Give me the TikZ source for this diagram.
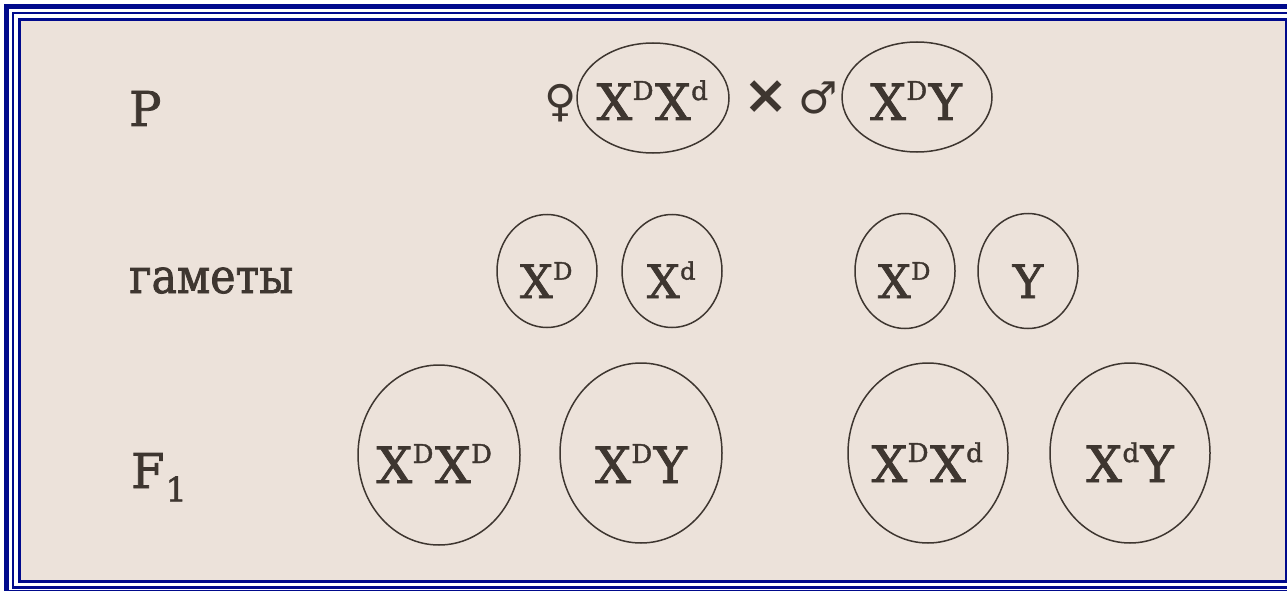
\documentclass[tikz,border=0pt]{standalone}
\usepackage{fontspec}
\usepackage{graphicx}
\usetikzlibrary{shapes.geometric}
\setmainfont{DejaVu Serif}[FakeBold=1.6]
\newfontfamily\symfont{DejaVu Sans}
\definecolor{paper}{HTML}{ECE2DA}
\definecolor{navy}{HTML}{000A8C}
\definecolor{ink}{HTML}{3E3630}
\newcommand{\up}[1]{\kern0.5pt\raisebox{0.4em}{\scalebox{0.52}{#1}}\kern1.5pt}
\newcommand{\dn}[1]{\kern1pt\raisebox{-0.28em}{\scalebox{0.7}{#1}}}
\tikzset{
  cell/.style={ellipse, draw=ink, line width=1.5pt, inner sep=0pt},
  big/.style={font=\fontsize{50}{50}\selectfont, text=ink, inner sep=0pt, anchor=base},
  mid/.style={font=\fontsize{46}{46}\selectfont, text=ink, inner sep=0pt, anchor=base},
  lbl/.style={font=\fontsize{48}{48}\selectfont, text=ink, inner sep=0pt, anchor=base west},
  sym/.style={font=\symfont\fontsize{44}{44}\selectfont, text=ink, inner sep=0pt}
}
\begin{document}
\begin{tikzpicture}[x=1pt,y=-1pt]
\useasboundingbox (0,0) rectangle (1287,591);
\fill[white] (0,0) rectangle (1287,591);
\draw[navy, line width=5pt] (6.5,6.5) rectangle (1298,592);
\draw[navy, line width=2.5pt] (13,13) rectangle (1292,587.5);
\fill[paper] (19.5,19.5) rectangle (1286,581);
\draw[navy, line width=3pt] (19.5,19.5) rectangle (1286,581);

% row labels
\node[lbl] (lp) at (129,126) {P};
\node[lbl] (lg) at (129,293) {\scalebox{0.89}[1]{гаметы}};
\node[lbl] (lf) at (131,488) {F\dn{1}};

% parents
\node[sym] (fem) at (561,103) {♀};
\node[cell, minimum width=152pt, minimum height=110pt] (p1) at (653,98) {};
\node[big] (p1t) at (653,120) {X\up{D}X\up{d}};
\node[sym, font=\symfont\bfseries\fontsize{54}{54}\selectfont] (cross) at (766,97) {×};
\node[sym] (mal) at (818,98) {♂};
\node[cell, minimum width=150pt, minimum height=110pt] (p2) at (917,97) {};
\node[big] (p2t) at (916,120) {X\up{D}Y};

% gametes
\node[cell, minimum width=100pt, minimum height=113pt] (g1) at (547,271) {};
\node[mid] (g1t) at (547,298) {X\up{D}};
\node[cell, minimum width=100pt, minimum height=113pt] (g2) at (672,271) {};
\node[mid] (g2t) at (672,298) {X\up{d}};
\node[cell, minimum width=100pt, minimum height=115pt] (g3) at (905,271) {};
\node[mid] (g3t) at (905,298) {X\up{D}};
\node[cell, minimum width=100pt, minimum height=115pt] (g4) at (1028,271) {};
\node[mid] (g4t) at (1028,298) {Y};

% F1
\node[cell, minimum width=162pt, minimum height=180pt] (f1) at (439,455) {};
\node[big] (f1t) at (435,483) {X\up{D}X\up{D}};
\node[cell, minimum width=162pt, minimum height=180pt] (f2) at (641,453) {};
\node[big] (f2t) at (641,483) {X\up{D}Y};
\node[cell, minimum width=160pt, minimum height=180pt] (f3) at (928,453) {};
\node[big] (f3t) at (928,482) {X\up{D}X\up{d}};
\node[cell, minimum width=160pt, minimum height=180pt] (f4) at (1130,453) {};
\node[big] (f4t) at (1130,482) {X\up{d}Y};
\end{tikzpicture}
\end{document}
